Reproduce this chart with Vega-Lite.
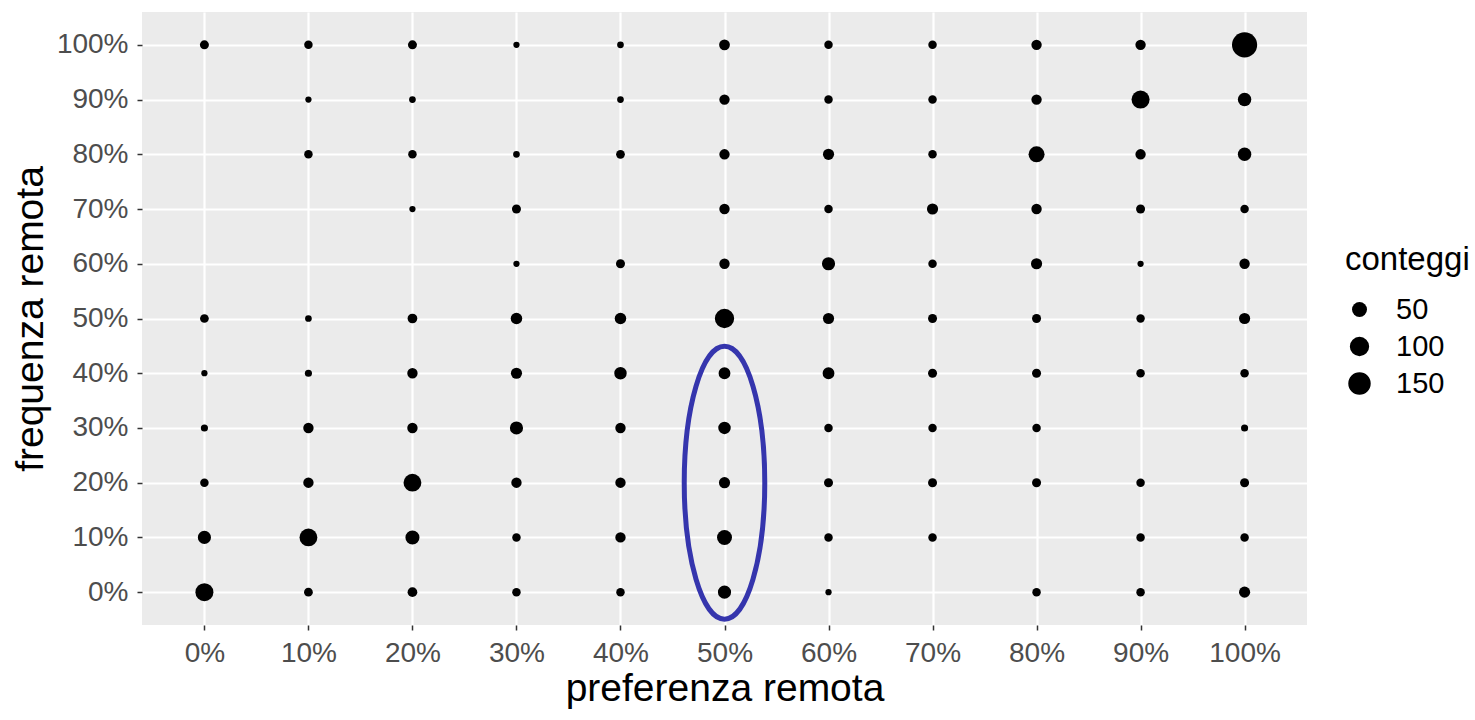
{
  "$schema": "https://vega.github.io/schema/vega-lite/v6.json",
  "autosize": {"type": "none"},
  "padding": {"left": 142, "top": 12, "right": 168, "bottom": 95},
  "width": 1165,
  "height": 613,
  "background": "white",
  "config": {
    "font": "Liberation Sans",
    "view": {"fill": "#ebebeb", "stroke": null},
    "axis": {
      "domain": false,
      "gridColor": "white",
      "gridWidth": 2.2,
      "tickColor": "#333333",
      "tickSize": 5,
      "tickWidth": 1.5,
      "labelColor": "#4d4d4d",
      "labelFontSize": 28,
      "labelFlush": false,
      "labelOverlap": false,
      "titleColor": "black",
      "titleFontSize": 39,
      "titleFontWeight": "normal"
    }
  },
  "layer": [
    {
      "data": {
        "values": [
          {"pref": 0.0, "freq": 1.0, "conteggi": 12},
          {"pref": 0.1, "freq": 1.0, "conteggi": 10},
          {"pref": 0.2, "freq": 1.0, "conteggi": 12},
          {"pref": 0.3, "freq": 1.0, "conteggi": 4},
          {"pref": 0.4, "freq": 1.0, "conteggi": 5},
          {"pref": 0.5, "freq": 1.0, "conteggi": 20},
          {"pref": 0.6, "freq": 1.0, "conteggi": 10},
          {"pref": 0.7, "freq": 1.0, "conteggi": 10},
          {"pref": 0.8, "freq": 1.0, "conteggi": 18},
          {"pref": 0.9, "freq": 1.0, "conteggi": 18},
          {"pref": 1.0, "freq": 1.0, "conteggi": 205},

          {"pref": 0.1, "freq": 0.9, "conteggi": 4},
          {"pref": 0.2, "freq": 0.9, "conteggi": 5},
          {"pref": 0.4, "freq": 0.9, "conteggi": 5},
          {"pref": 0.5, "freq": 0.9, "conteggi": 18},
          {"pref": 0.6, "freq": 0.9, "conteggi": 10},
          {"pref": 0.7, "freq": 0.9, "conteggi": 10},
          {"pref": 0.8, "freq": 0.9, "conteggi": 18},
          {"pref": 0.9, "freq": 0.9, "conteggi": 83},
          {"pref": 1.0, "freq": 0.9, "conteggi": 37},

          {"pref": 0.1, "freq": 0.8, "conteggi": 10},
          {"pref": 0.2, "freq": 0.8, "conteggi": 10},
          {"pref": 0.3, "freq": 0.8, "conteggi": 5},
          {"pref": 0.4, "freq": 0.8, "conteggi": 11},
          {"pref": 0.5, "freq": 0.8, "conteggi": 18},
          {"pref": 0.6, "freq": 0.8, "conteggi": 22},
          {"pref": 0.7, "freq": 0.8, "conteggi": 10},
          {"pref": 0.8, "freq": 0.8, "conteggi": 60},
          {"pref": 0.9, "freq": 0.8, "conteggi": 18},
          {"pref": 1.0, "freq": 0.8, "conteggi": 37},

          {"pref": 0.2, "freq": 0.7, "conteggi": 4},
          {"pref": 0.3, "freq": 0.7, "conteggi": 12},
          {"pref": 0.5, "freq": 0.7, "conteggi": 18},
          {"pref": 0.6, "freq": 0.7, "conteggi": 10},
          {"pref": 0.7, "freq": 0.7, "conteggi": 22},
          {"pref": 0.8, "freq": 0.7, "conteggi": 18},
          {"pref": 0.9, "freq": 0.7, "conteggi": 12},
          {"pref": 1.0, "freq": 0.7, "conteggi": 10},

          {"pref": 0.3, "freq": 0.6, "conteggi": 4},
          {"pref": 0.4, "freq": 0.6, "conteggi": 12},
          {"pref": 0.5, "freq": 0.6, "conteggi": 18},
          {"pref": 0.6, "freq": 0.6, "conteggi": 35},
          {"pref": 0.7, "freq": 0.6, "conteggi": 10},
          {"pref": 0.8, "freq": 0.6, "conteggi": 22},
          {"pref": 0.9, "freq": 0.6, "conteggi": 4},
          {"pref": 1.0, "freq": 0.6, "conteggi": 18},

          {"pref": 0.0, "freq": 0.5, "conteggi": 11},
          {"pref": 0.1, "freq": 0.5, "conteggi": 5},
          {"pref": 0.2, "freq": 0.5, "conteggi": 15},
          {"pref": 0.3, "freq": 0.5, "conteggi": 24},
          {"pref": 0.4, "freq": 0.5, "conteggi": 24},
          {"pref": 0.5, "freq": 0.5, "conteggi": 100},
          {"pref": 0.6, "freq": 0.5, "conteggi": 22},
          {"pref": 0.7, "freq": 0.5, "conteggi": 12},
          {"pref": 0.8, "freq": 0.5, "conteggi": 12},
          {"pref": 0.9, "freq": 0.5, "conteggi": 10},
          {"pref": 1.0, "freq": 0.5, "conteggi": 22},

          {"pref": 0.0, "freq": 0.4, "conteggi": 4},
          {"pref": 0.1, "freq": 0.4, "conteggi": 6},
          {"pref": 0.2, "freq": 0.4, "conteggi": 18},
          {"pref": 0.3, "freq": 0.4, "conteggi": 22},
          {"pref": 0.4, "freq": 0.4, "conteggi": 30},
          {"pref": 0.5, "freq": 0.4, "conteggi": 26},
          {"pref": 0.6, "freq": 0.4, "conteggi": 26},
          {"pref": 0.7, "freq": 0.4, "conteggi": 12},
          {"pref": 0.8, "freq": 0.4, "conteggi": 12},
          {"pref": 0.9, "freq": 0.4, "conteggi": 10},
          {"pref": 1.0, "freq": 0.4, "conteggi": 10},

          {"pref": 0.0, "freq": 0.3, "conteggi": 6},
          {"pref": 0.1, "freq": 0.3, "conteggi": 18},
          {"pref": 0.2, "freq": 0.3, "conteggi": 18},
          {"pref": 0.3, "freq": 0.3, "conteggi": 35},
          {"pref": 0.4, "freq": 0.3, "conteggi": 18},
          {"pref": 0.5, "freq": 0.3, "conteggi": 30},
          {"pref": 0.6, "freq": 0.3, "conteggi": 10},
          {"pref": 0.7, "freq": 0.3, "conteggi": 10},
          {"pref": 0.8, "freq": 0.3, "conteggi": 10},
          {"pref": 1.0, "freq": 0.3, "conteggi": 6},

          {"pref": 0.0, "freq": 0.2, "conteggi": 10},
          {"pref": 0.1, "freq": 0.2, "conteggi": 18},
          {"pref": 0.2, "freq": 0.2, "conteggi": 80},
          {"pref": 0.3, "freq": 0.2, "conteggi": 18},
          {"pref": 0.4, "freq": 0.2, "conteggi": 18},
          {"pref": 0.5, "freq": 0.2, "conteggi": 22},
          {"pref": 0.6, "freq": 0.2, "conteggi": 12},
          {"pref": 0.7, "freq": 0.2, "conteggi": 12},
          {"pref": 0.8, "freq": 0.2, "conteggi": 12},
          {"pref": 0.9, "freq": 0.2, "conteggi": 10},
          {"pref": 1.0, "freq": 0.2, "conteggi": 12},

          {"pref": 0.0, "freq": 0.1, "conteggi": 35},
          {"pref": 0.1, "freq": 0.1, "conteggi": 80},
          {"pref": 0.2, "freq": 0.1, "conteggi": 42},
          {"pref": 0.3, "freq": 0.1, "conteggi": 10},
          {"pref": 0.4, "freq": 0.1, "conteggi": 18},
          {"pref": 0.5, "freq": 0.1, "conteggi": 50},
          {"pref": 0.6, "freq": 0.1, "conteggi": 10},
          {"pref": 0.7, "freq": 0.1, "conteggi": 10},
          {"pref": 0.9, "freq": 0.1, "conteggi": 10},
          {"pref": 1.0, "freq": 0.1, "conteggi": 10},

          {"pref": 0.0, "freq": 0.0, "conteggi": 83},
          {"pref": 0.1, "freq": 0.0, "conteggi": 11},
          {"pref": 0.2, "freq": 0.0, "conteggi": 15},
          {"pref": 0.3, "freq": 0.0, "conteggi": 10},
          {"pref": 0.4, "freq": 0.0, "conteggi": 10},
          {"pref": 0.5, "freq": 0.0, "conteggi": 35},
          {"pref": 0.6, "freq": 0.0, "conteggi": 4},
          {"pref": 0.8, "freq": 0.0, "conteggi": 10},
          {"pref": 0.9, "freq": 0.0, "conteggi": 10},
          {"pref": 1.0, "freq": 0.0, "conteggi": 22}
        ]
      },
      "mark": {"type": "point", "filled": true, "color": "black", "opacity": 1, "strokeWidth": 0},
      "encoding": {
        "x": {
          "field": "pref", "type": "quantitative",
          "scale": {"domain": [-0.06, 1.06], "nice": false, "zero": false},
          "axis": {"values": [0, 0.1, 0.2, 0.3, 0.4, 0.5, 0.6, 0.7, 0.8, 0.9, 1], "format": ".0%", "title": "preferenza remota", "labelPadding": 9, "titlePadding": 2}
        },
        "y": {
          "field": "freq", "type": "quantitative",
          "scale": {"domain": [-0.06, 1.06], "nice": false, "zero": false},
          "axis": {"values": [0, 0.1, 0.2, 0.3, 0.4, 0.5, 0.6, 0.7, 0.8, 0.9, 1], "format": ".0%", "title": "frequenza remota", "labelPadding": 9, "titlePadding": 6}
        },
        "size": {
          "field": "conteggi", "type": "quantitative",
          "scale": {"type": "pow", "exponent": 0.75, "domain": [1, 207], "range": [18, 640], "zero": false},
          "legend": {
            "title": "conteggi", "values": [50, 100, 150], "orient": "none", "legendX": 1203, "legendY": 232,
            "titleFontSize": 33, "titleFontWeight": "normal", "titleColor": "black", "titlePadding": 18,
            "labelFontSize": 29, "labelColor": "black", "labelOffset": 22, "rowPadding": 7,
            "symbolFillColor": "black", "symbolStrokeColor": "black", "symbolOpacity": 1, "symbolStrokeWidth": 0, "symbolType": "circle"
          }
        }
      }
    },
    {
      "data": {"values": [{"pref": 0.5, "freq": 0.2}]},
      "mark": {
        "type": "point",
        "shape": "M0,-1C0.163,-1 0.295,-0.5523 0.295,0C0.295,0.5523 0.163,1 0,1C-0.163,1 -0.295,0.5523 -0.295,0C-0.295,-0.5523 -0.163,-1 0,-1Z",
        "size": 74529,
        "filled": false,
        "stroke": "#3535ad",
        "strokeWidth": 5,
        "opacity": 1
      },
      "encoding": {
        "x": {"field": "pref", "type": "quantitative"},
        "y": {"field": "freq", "type": "quantitative"}
      }
    }
  ]
}
